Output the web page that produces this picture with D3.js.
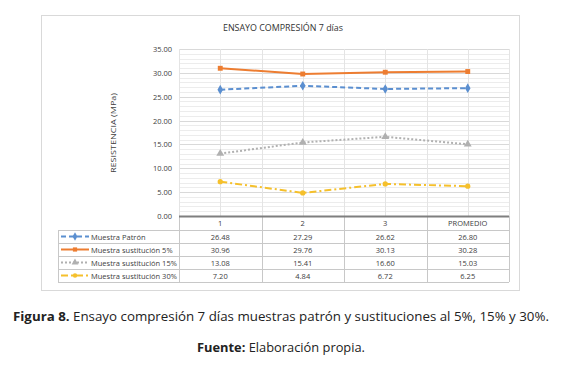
<!doctype html>
<html lang="es">
<head>
<meta charset="utf-8">
<title>ENSAYO COMPRESIÓN 7 días</title>
<script src="https://cdn.jsdelivr.net/npm/d3@7"></script>
<style>
  body { margin: 0; background: #fff; }
  svg { display: block; }
  .small { font-family: "Open Sans", "Liberation Sans", sans-serif; font-size: 7.5px; fill: #404040; }
  .cap { font-family: "Open Sans", "Liberation Sans", sans-serif; font-size: 13px; fill: #222; }
</style>
</head>
<body>
<script>

// chart values
var categories = ["1", "2", "3", "PROMEDIO"];
var seriesNames = ["Muestra Patrón", "Muestra sustitución 5%", "Muestra sustitución 15%", "Muestra sustitución 30%"];
var patron = [26.48, 27.29, 26.62, 26.80];
var sust5 = [30.96, 29.76, 30.13, 30.28];
var sust15 = [13.08, 15.41, 16.60, 15.03];
var sust30 = [7.20, 4.84, 6.72, 6.25];
var yTicks = [0, 5, 10, 15, 20, 25, 30, 35];

var series = [
    { name: seriesNames[0], values: patron, color: "#5b8fd0", dash: "5,3", marker: "diamond" },
    { name: seriesNames[1], values: sust5, color: "#ed7d31", dash: null, marker: "square" },
    { name: seriesNames[2], values: sust15, color: "#b0b0b0", dash: "2,2", marker: "triangle" },
    { name: seriesNames[3], values: sust30, color: "#f5c02c", dash: "7,3,2,3", marker: "circle" }
];

var width = 562, height = 367;
var plot = { left: 179, right: 509, top: 49, bottom: 216 };
var legendLeft = 58;
var rowH = 13;

var svg = d3.select("body").append("svg").attr("width", width).attr("height", height);

// frame
svg.append("rect").attr("x", 41.5).attr("y", 15.5).attr("width", 478).attr("height", 275)
   .attr("fill", "#fff").attr("stroke", "#d9d9d9");

var x = d3.scaleBand().domain(categories).range([plot.left, plot.right]);
var y = d3.scaleLinear().domain([0, 35]).range([plot.bottom, plot.top]);

// minor + major gridlines
var g = svg.append("g");
g.selectAll(".minor").data(d3.range(0, 36, 1)).enter().append("line")
   .attr("x1", plot.left).attr("x2", plot.right)
   .attr("y1", function(d){ return Math.round(y(d)) + 0.5; })
   .attr("y2", function(d){ return Math.round(y(d)) + 0.5; })
   .attr("stroke", function(d){ return d % 5 === 0 ? "#d9d9d9" : "#ececec"; })
   .attr("stroke-width", 1);

// vertical gridlines: boundaries and centers
var vlines = [];
categories.forEach(function(c){ vlines.push(x(c)); vlines.push(x(c) + x.bandwidth() / 2); });
vlines.push(plot.right);
g.selectAll(".v").data(vlines).enter().append("line")
   .attr("x1", function(d){ return Math.round(d) + 0.5; })
   .attr("x2", function(d){ return Math.round(d) + 0.5; })
   .attr("y1", plot.top).attr("y2", plot.bottom)
   .attr("stroke", "#e4e4e4");

// y axis labels
svg.selectAll(".yt").data(yTicks).enter().append("text")
   .attr("class", "small")
   .attr("x", 172).attr("y", function(d){ return y(d) + 3; })
   .attr("text-anchor", "end")
   .text(function(d){ return d.toFixed(2); });

svg.append("text").attr("class", "small")
   .attr("transform", "translate(116,133) rotate(-90)")
   .attr("text-anchor", "middle")
   .attr("textLength", 80).attr("lengthAdjust", "spacingAndGlyphs")
   .text("RESISTENCIA (MPa)");

// title
svg.append("text").attr("class", "small")
   .attr("x", 283).attr("y", 31).attr("text-anchor", "middle")
   .style("font-size", "8.5px").style("fill", "#333")
   .attr("textLength", 120).attr("lengthAdjust", "spacingAndGlyphs")
   .text("ENSAYO COMPRESIÓN 7 días");

// markers
function marker(sel, type, color, size) {
    if (type === "circle") {
        sel.append("circle").attr("r", size * 0.75).attr("fill", color);
    } else if (type === "square") {
        sel.append("rect").attr("x", -size * 0.7).attr("y", -size * 0.7)
           .attr("width", size * 1.4).attr("height", size * 1.4).attr("fill", color);
    } else {
        var sym = type === "diamond" ? d3.symbolDiamond : d3.symbolTriangle;
        sel.append("path").attr("d", d3.symbol().type(sym).size(size * size * 2.2)).attr("fill", color);
    }
}

var line = d3.line()
   .x(function(d, i){ return x(categories[i]) + x.bandwidth() / 2; })
   .y(function(d){ return y(d); });

series.forEach(function(s){
    svg.append("path").attr("d", line(s.values))
       .attr("fill", "none").attr("stroke", s.color).attr("stroke-width", 2)
       .attr("stroke-dasharray", s.dash);
    s.values.forEach(function(v, i){
        var m = svg.append("g").attr("transform", "translate(" + (x(categories[i]) + x.bandwidth() / 2) + "," + y(v) + ")");
        marker(m, s.marker, s.color, 3.5);
    });
});

// data table
var tbl = svg.append("g");
var tableBottom = plot.bottom + 14 + rowH * series.length;
var hl = [plot.bottom + 14];
series.forEach(function(s, i){ hl.push(plot.bottom + 14 + rowH * (i + 1)); });
tbl.selectAll(".h").data(hl).enter().append("line")
   .attr("x1", legendLeft).attr("x2", plot.right)
   .attr("y1", function(d){ return d + 0.5; }).attr("y2", function(d){ return d + 0.5; })
   .attr("stroke", "#c8c8c8");
var tv = [legendLeft];
categories.forEach(function(c){ tv.push(x(c)); });
tv.push(plot.right);
tbl.selectAll(".tv").data(tv).enter().append("line")
   .attr("x1", function(d){ return Math.round(d) + 0.5; })
   .attr("x2", function(d){ return Math.round(d) + 0.5; })
   .attr("y1", function(d, i){ return i === 0 ? plot.bottom + 14 : plot.bottom; })
   .attr("y2", tableBottom)
   .attr("stroke", "#c8c8c8");

// axis line
svg.append("line").attr("x1", plot.left).attr("x2", plot.right)
   .attr("y1", plot.bottom + 0.5).attr("y2", plot.bottom + 0.5)
   .attr("stroke", "#7f7f7f").attr("stroke-width", 2);

// category header
svg.selectAll(".cat").data(categories).enter().append("text")
   .attr("class", "small")
   .attr("x", function(d){ return x(d) + x.bandwidth() / 2; })
   .attr("y", plot.bottom + 10)
   .attr("text-anchor", "middle")
   .text(function(d){ return d; });

series.forEach(function(s, i){
    var cy = plot.bottom + 14 + rowH * i + rowH / 2;
    svg.append("line").attr("x1", 61).attr("x2", 89).attr("y1", cy).attr("y2", cy)
       .attr("stroke", s.color).attr("stroke-width", 2).attr("stroke-dasharray", s.dash);
    marker(svg.append("g").attr("transform", "translate(75," + cy + ")"), s.marker, s.color, 3);
    svg.append("text").attr("class", "small").attr("x", 91).attr("y", cy + 3).text(s.name);
    s.values.forEach(function(v, j){
        svg.append("text").attr("class", "small")
           .attr("x", x(categories[j]) + x.bandwidth() / 2).attr("y", cy + 3)
           .attr("text-anchor", "middle").text(v.toFixed(2));
    });
});

// caption
var cap = svg.append("text").attr("class", "cap").attr("x", 281).attr("y", 321).attr("text-anchor", "middle")
   .attr("textLength", 536).attr("lengthAdjust", "spacingAndGlyphs");
cap.append("tspan").style("font-weight", "bold").text("Figura 8.");
cap.append("tspan").text(" Ensayo compresión 7 días muestras patrón y sustituciones al 5%, 15% y 30%.");

var src = svg.append("text").attr("class", "cap").attr("x", 281).attr("y", 352).attr("text-anchor", "middle")
   .attr("textLength", 168).attr("lengthAdjust", "spacingAndGlyphs");
src.append("tspan").style("font-weight", "bold").text("Fuente:");
src.append("tspan").text(" Elaboración propia.");

</script>
</body>
</html>
